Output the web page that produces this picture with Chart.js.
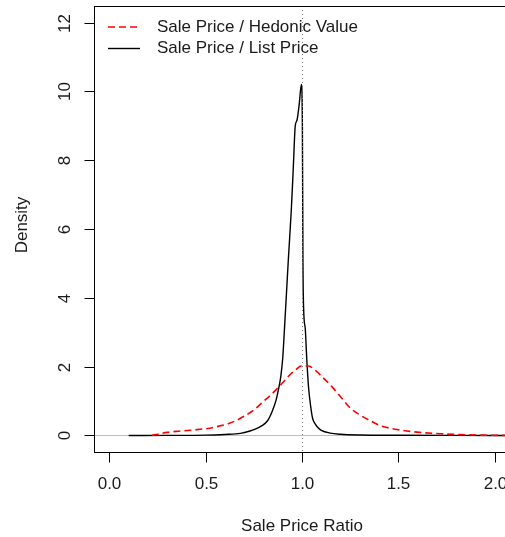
<!DOCTYPE html>
<html>
<head>
<meta charset="utf-8">
<script src="https://cdn.jsdelivr.net/npm/chart.js@4/dist/chart.umd.min.js"></script>
<style>
  html, body { margin: 0; padding: 0; overflow: hidden; background: #fff; }
  #wrap { width: 512px; height: 537px; }
</style>
</head>
<body>
<div id="wrap"><canvas id="densityChart"></canvas></div>
<script>
// Sale Price / Hedonic Value density (red, dashed)
const hedonicX = [0.22, 0.26, 0.30, 0.35, 0.42, 0.47, 0.52, 0.575, 0.62, 0.66, 0.70, 0.75, 0.80, 0.84, 0.878, 0.91, 0.94, 0.97, 0.995, 1.035, 1.05, 1.07, 1.10, 1.155, 1.207, 1.25, 1.30, 1.354, 1.405, 1.458, 1.51, 1.56, 1.61, 1.72, 1.82, 1.94, 2.08];
const hedonicY = [0, 0.05, 0.09, 0.12, 0.15, 0.18, 0.21, 0.28, 0.35, 0.44, 0.56, 0.74, 0.99, 1.19, 1.40, 1.60, 1.78, 1.92, 2.02, 2.02, 1.98, 1.89, 1.73, 1.42, 1.08, 0.80, 0.60, 0.43, 0.29, 0.21, 0.16, 0.12, 0.09, 0.05, 0.025, 0.01, 0];

// Sale Price / List Price density (black, solid)
const listX = [0.10, 0.30, 0.50, 0.60, 0.68, 0.73, 0.76, 0.79, 0.82, 0.845, 0.865, 0.88, 0.89, 0.90, 0.91, 0.92, 0.93, 0.944, 0.955, 0.965, 0.974, 0.985, 0.997, 1.002, 1.005, 1.009, 1.017, 1.025, 1.034, 1.045, 1.055, 1.07, 1.086, 1.10, 1.146, 1.20, 1.30, 1.50, 1.80, 2.10];
const listY = [0, 0.003, 0.01, 0.03, 0.06, 0.13, 0.19, 0.28, 0.42, 0.70, 1.02, 1.40, 1.72, 2.25, 3.2, 4.2, 5.2, 6.5, 7.8, 9.0, 9.16, 9.6, 10.2, 9.0, 5.0, 3.6, 3.1, 2.2, 1.4, 0.85, 0.5, 0.32, 0.21, 0.15, 0.07, 0.035, 0.015, 0.008, 0.003, 0];

const xTicks = [0, 0.5, 1, 1.5, 2];
const xTickLabels = ['0.0', '0.5', '1.0', '1.5', '2.0'];
const yTicks = [0, 2, 4, 6, 8, 10, 12];
const yTickLabels = ['0', '2', '4', '6', '8', '10', '12'];

const seriesNames = ['Sale Price / Hedonic Value', 'Sale Price / List Price'];

function toPoints(xs, ys) {
    return xs.map((x, i) => ({ x: x, y: ys[i] }));
}

const FONT = '17px "Liberation Sans", Arial, sans-serif';

// grey zero line under the curves, dotted line at ratio 1 over them
const refLines = {
    id: 'refLines',
    beforeDatasetsDraw(chart) {
        const ctx = chart.ctx, a = chart.chartArea;
        const y = chart.scales.y;
        ctx.save();
        ctx.strokeStyle = '#bebebe';
        ctx.lineWidth = 1;
        const y0 = Math.round(y.getPixelForValue(0)) + 0.5;
        ctx.beginPath();
        ctx.moveTo(a.left, y0);
        ctx.lineTo(a.right, y0);
        ctx.stroke();
        ctx.restore();
    },
    afterDatasetsDraw(chart) {
        const ctx = chart.ctx, a = chart.chartArea;
        const x = chart.scales.x;
        ctx.save();
        ctx.strokeStyle = '#777';
        ctx.lineWidth = 1;
        ctx.setLineDash([1, 3]);
        const x1 = Math.round(x.getPixelForValue(1)) + 0.5;
        ctx.beginPath();
        ctx.moveTo(x1, a.top);
        ctx.lineTo(x1, a.bottom);
        ctx.stroke();
        ctx.restore();
    }
};

// R style box, axes, labels and legend
const rAxes = {
    id: 'rAxes',
    afterDraw(chart) {
        const ctx = chart.ctx, a = chart.chartArea;
        const x = chart.scales.x, y = chart.scales.y;
        ctx.save();
        ctx.strokeStyle = '#000';
        ctx.lineWidth = 1;
        ctx.strokeRect(Math.round(a.left) + 0.5, Math.round(a.top) + 0.5,
            Math.round(a.right - a.left), Math.round(a.bottom - a.top));

        ctx.fillStyle = '#1a1a1a';
        ctx.font = FONT;

        // x axis
        const yb = Math.round(a.bottom) + 0.5;
        ctx.textAlign = 'center';
        ctx.textBaseline = 'middle';
        xTicks.forEach((v, i) => {
            const px = Math.round(x.getPixelForValue(v)) + 0.5;
            ctx.beginPath();
            ctx.moveTo(px, yb);
            ctx.lineTo(px, yb + 10);
            ctx.stroke();
            ctx.fillText(xTickLabels[i], px, a.bottom + 32);
        });
        ctx.fillText('Sale Price Ratio', x.getPixelForValue(1), a.bottom + 74);

        // y axis
        const xl = Math.round(a.left) + 0.5;
        yTicks.forEach((v, i) => {
            const py = Math.round(y.getPixelForValue(v)) + 0.5;
            ctx.beginPath();
            ctx.moveTo(xl, py);
            ctx.lineTo(xl - 10, py);
            ctx.stroke();
            ctx.save();
            ctx.translate(a.left - 29, py);
            ctx.rotate(-Math.PI / 2);
            ctx.fillText(yTickLabels[i], 0, 0);
            ctx.restore();
        });
        ctx.save();
        ctx.translate(22, (a.top + a.bottom) / 2 - 4);
        ctx.rotate(-Math.PI / 2);
        ctx.fillText('Density', 0, 0);
        ctx.restore();

        // legend
        ctx.textAlign = 'left';
        chart.data.datasets.forEach((ds, i) => {
            const ly = a.top + 21 + i * 21.5;
            ctx.save();
            ctx.strokeStyle = ds.borderColor;
            ctx.lineWidth = ds.borderWidth;
            ctx.setLineDash(ds.borderDash || []);
            ctx.beginPath();
            ctx.moveTo(a.left + 14, ly);
            ctx.lineTo(a.left + 46, ly);
            ctx.stroke();
            ctx.restore();
            ctx.fillText(ds.label, a.left + 63, ly);
        });
        ctx.restore();
    }
};

new Chart(document.getElementById('densityChart'), {
    type: 'line',
    data: {
        datasets: [
            {
                label: seriesNames[0],
                data: toPoints(hedonicX, hedonicY),
                borderColor: '#ff0000',
                borderWidth: 1.6,
                borderDash: [7, 4],
                pointRadius: 0,
                fill: false,
                cubicInterpolationMode: 'monotone'
            },
            {
                label: seriesNames[1],
                data: toPoints(listX, listY),
                borderColor: '#000000',
                borderWidth: 1.4,
                pointRadius: 0,
                fill: false,
                cubicInterpolationMode: 'monotone'
            }
        ]
    },
    options: {
        responsive: true,
        maintainAspectRatio: false,
        animation: false,
        layout: { padding: { left: 94, top: 6, right: 2, bottom: 85 } },
        plugins: {
            legend: { display: false },
            tooltip: { enabled: false }
        },
        scales: {
            x: { type: 'linear', min: -0.08, max: 2.08, display: false },
            y: { type: 'linear', min: -0.48, max: 12.48, display: false }
        }
    },
    plugins: [refLines, rAxes]
});
</script>
</body>
</html>
